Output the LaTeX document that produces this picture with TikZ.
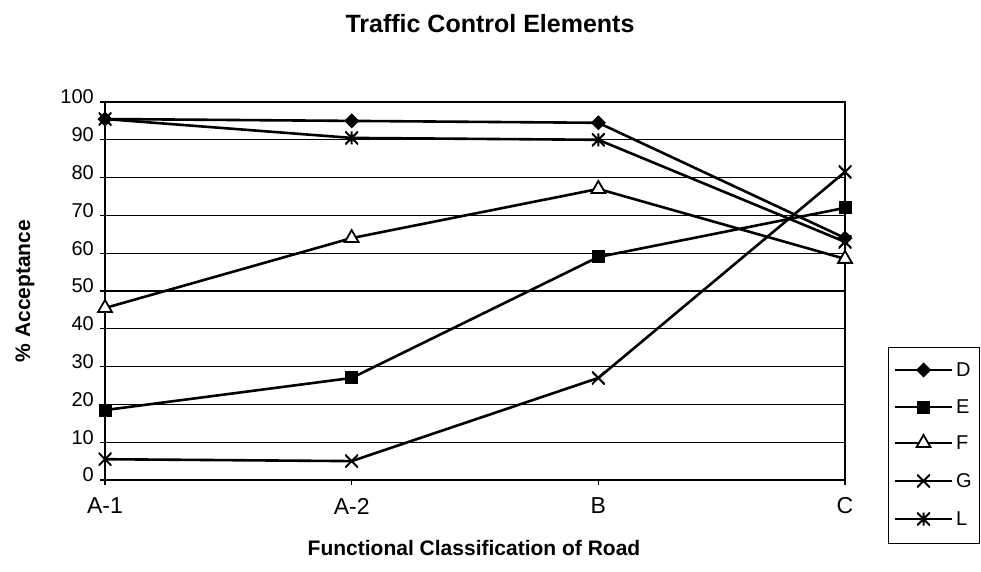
\documentclass[tikz,border=0pt]{standalone}
\usepackage{fontspec}
\setmainfont{Liberation Sans}
\usepackage{tikz}
\usetikzlibrary{positioning}
\usetikzlibrary{shapes}
\usetikzlibrary{calc}
\tikzstyle{dmark}=[diamond,fill=black,draw,line width=1pt,minimum size=14pt,inner sep=0pt]
\tikzstyle{smark}=[rectangle,fill=black,draw,line width=1pt,minimum size=12pt,inner sep=0pt]
\tikzstyle{tmark}=[regular polygon,regular polygon sides=3,fill=white,draw,line width=1.8pt,minimum size=16pt,inner sep=0pt]
\tikzstyle{xmark}=[rectangle,minimum size=13pt,inner sep=0pt,path picture={
   \draw[line width=2pt] (path picture bounding box.north west) -- (path picture bounding box.south east)
         (path picture bounding box.north east) -- (path picture bounding box.south west);}]
\tikzstyle{lmark}=[rectangle,minimum size=13pt,inner sep=0pt,path picture={
   \draw[line width=2pt] (path picture bounding box.north west) -- (path picture bounding box.south east)
         (path picture bounding box.north east) -- (path picture bounding box.south west)
         (path picture bounding box.north) -- (path picture bounding box.south);}]
\tikzstyle{serie} = [draw,line width=2.6pt,line join=round]
\tikzstyle{gridline} = [draw,line width=1.3pt]
\tikzstyle{frameline} = [draw,line width=2.4pt]
\tikzstyle{tickline} = [draw,line width=1.2pt]
\tikzstyle{legline} = [draw,line width=1.8pt]
\tikzset{ctitle/.style={font=\bfseries\fontsize{25}{29}\selectfont},
         axtitle/.style={font=\bfseries\fontsize{21}{25}\selectfont},
         ticklabel/.style={font=\fontsize{20}{24}\selectfont,inner sep=0pt},
         catlabel/.style={font=\fontsize{23}{27}\selectfont,inner sep=0pt},
         legtext/.style={font=\fontsize{20}{24}\selectfont,inner sep=0pt}}

\begin{document}
\begin{tikzpicture}[x=1pt,y=-1pt]
\useasboundingbox (0,0) rectangle (981,571);

 \node[ctitle] (title) at (490,24) {Traffic Control Elements};
 \node[axtitle] (xtitle) at (474,548) {Functional Classification of Road};
 \node[axtitle,rotate=90] (ytitle) at (25,291) {\% Acceptance};

\begin{scope}[shift={(105,480)},x=246.67pt,y=3.78pt]

 %grid and frame
 \foreach \v in {10,20,...,90}
   \path[gridline] (0,\v) -- (3,\v);
 \path[frameline] (0,0) rectangle (3,100);

 %y axis
 \foreach \v in {0,10,...,100}{
   \coordinate (yt\v) at (0,\v);
   \path[tickline] (yt\v) -- ++(-5pt,0pt);
   \node[ticklabel,anchor=east] (ylab\v) at ($(yt\v)+(-11pt,5pt)$) {\v};
 }

 %x axis
 \foreach \x/\name/\label in {0/cA1/A-1, 1/cA2/A-2, 2/cB/B, 3/cC/C}{
   \coordinate (\name) at (\x,0);
   \path[tickline] (\name) -- ++(0pt,-5pt);
   \node[catlabel] (l\name) at ($(\name)+(0pt,-26pt)$) {\label};
 }

 %D
 \foreach \x/\y/\name in {0/95.5/D1, 1/95/D2, 2/94.5/D3, 3/64/D4}
   \coordinate (\name) at (\x,\y);
 \path[serie] (D1) -- (D2) -- (D3) -- (D4);
 \foreach \name in {D1,D2,D3,D4}
   \node[dmark] (m\name) at (\name) {};

 %E
 \foreach \x/\y/\name in {0/18.5/E1, 1/27/E2, 2/59/E3, 3/72/E4}
   \coordinate (\name) at (\x,\y);
 \path[serie] (E1) -- (E2) -- (E3) -- (E4);
 \foreach \name in {E1,E2,E3,E4}
   \node[smark] (m\name) at (\name) {};

 %F
 \foreach \x/\y/\name in {0/45.5/F1, 1/64/F2, 2/77/F3, 3/58.5/F4}
   \coordinate (\name) at (\x,\y);
 \path[serie] (F1) -- (F2) -- (F3) -- (F4);
 \foreach \name in {F1,F2,F3,F4}
   \node[tmark] (m\name) at (\name) {};

 %G
 \foreach \x/\y/\name in {0/5.5/G1, 1/5/G2, 2/27/G3, 3/81.5/G4}
   \coordinate (\name) at (\x,\y);
 \path[serie] (G1) -- (G2) -- (G3) -- (G4);
 \foreach \name in {G1,G2,G3,G4}
   \node[xmark] (m\name) at (\name) {};

 %L
 \foreach \x/\y/\name in {0/95.5/L1, 1/90.5/L2, 2/90/L3, 3/63/L4}
   \coordinate (\name) at (\x,\y);
 \path[serie] (L1) -- (L2) -- (L3) -- (L4);
 \foreach \name in {L1,L2,L3,L4}
   \node[lmark] (m\name) at (\name) {};

\end{scope}

 %legend
 \node[draw,line width=1pt,minimum width=91pt,minimum height=196pt,inner sep=0pt] (legend) at (933.5,445) {};
 \foreach \y/\name/\mark in {370/D/dmark, 407/E/smark, 443/F/tmark, 481/G/xmark, 519/L/lmark}{
   \coordinate (\name a) at (895,\y);
   \coordinate (\name b) at (952,\y);
   \path[legline] (\name a) -- (\name b);
   \node[\mark] (\name m) at ($(\name a)!0.5!(\name b)$) {};
   \node[legtext,right=4pt of \name b] (\name t) {\name};
 }

\end{tikzpicture}
\end{document}
